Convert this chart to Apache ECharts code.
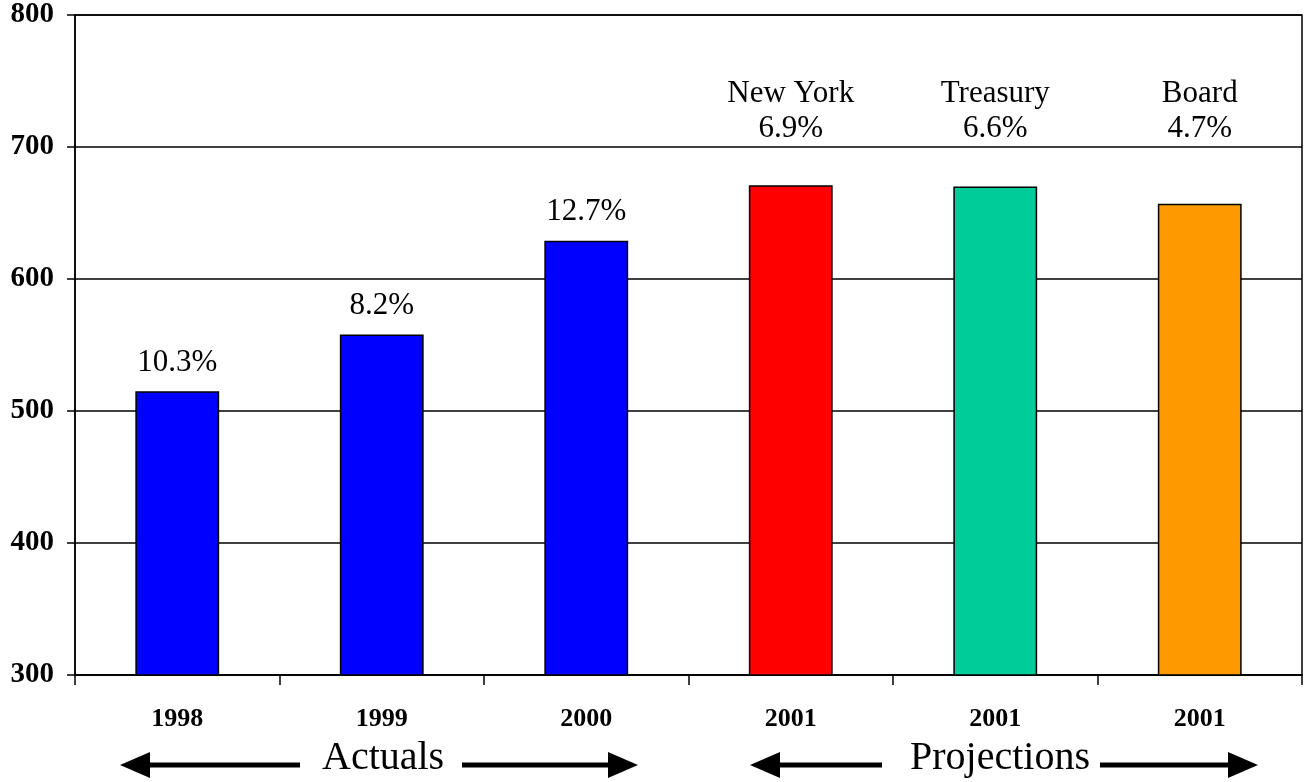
<!DOCTYPE html>
<html>
<head>
<meta charset="utf-8">
<script src="https://cdn.jsdelivr.net/npm/echarts@6/dist/echarts.min.js"></script>
<style>
  html, body { margin: 0; padding: 0; background: #fff; }
  #chart { width: 1308px; height: 782px; }
</style>
</head>
<body>
<div id="chart"></div>
<script>
// data
const categories = ['1998', '1999', '2000', '2001', '2001', '2001'];
const values = [515, 558, 629, 671, 670, 657];
const growth = ['10.3%', '8.2%', '12.7%', '6.9%', '6.6%', '4.7%'];
const sources = ['', '', '', 'New York', 'Treasury', 'Board'];
const barColors = ['#0000FF', '#0000FF', '#0000FF', '#FF0000', '#00CC99', '#FF9900'];
const yTicks = [300, 400, 500, 600, 700, 800];
const projLabelLevel = 697; // projection labels sit in a row above the bars

const serif = '"Liberation Serif", "Times New Roman", serif';

let mchart = echarts.init(document.getElementById('chart'));

// small helper for the arrows under the axis
function arrow(x1, x2, y, dir) {
  const tip = dir < 0 ? x1 : x2;
  const base = tip - dir * 30;
  return [
    {
      type: 'line',
      shape: { x1: dir < 0 ? base : x1, y1: y, x2: dir < 0 ? x2 : base, y2: y },
      style: { stroke: '#000', lineWidth: 5 }
    },
    {
      type: 'polygon',
      shape: { points: [[tip, y], [base, y - 13], [base, y + 13]] },
      style: { fill: '#000' }
    }
  ];
}

let option = {
  animation: false,
  backgroundColor: '#fff',
  grid: {
    left: 75,
    right: 6,
    top: 15,
    bottom: 107,
    show: true,
    borderColor: '#000',
    borderWidth: 1.5
  },
  xAxis: {
    type: 'category',
    data: categories,
    axisLine: { lineStyle: { color: '#000', width: 1.5 } },
    axisTick: { show: true, length: 10, lineStyle: { color: '#000', width: 1.5 } },
    axisLabel: {
      margin: 31,
      color: '#000',
      fontFamily: serif,
      fontWeight: 'bold',
      fontSize: 26
    }
  },
  yAxis: {
    type: 'value',
    min: yTicks[0],
    max: yTicks[yTicks.length - 1],
    interval: 100,
    axisLine: { show: true, lineStyle: { color: '#000', width: 1.5 } },
    axisTick: { show: true, length: 8, lineStyle: { color: '#000', width: 1.5 } },
    splitLine: { lineStyle: { color: '#000', width: 1.5 } },
    axisLabel: {
      margin: 21,
      color: '#000',
      fontFamily: serif,
      fontWeight: 'bold',
      fontSize: 29
    }
  },
  series: [
    {
      type: 'bar',
      barWidth: '41%',
      data: values.map((v, i) => ({
        value: v,
        itemStyle: { color: barColors[i], borderColor: '#000', borderWidth: 1.5 },
        label: {
          show: sources[i] === '',
          position: 'top',
          distance: 13,
          formatter: growth[i],
          color: '#000',
          fontFamily: serif,
          fontSize: 31
        }
      }))
    },
    {
      type: 'scatter',
      symbolSize: 0,
      silent: true,
      itemStyle: { opacity: 1 },
      data: sources.map((s, i) => (s ? [i, projLabelLevel] : null)).filter(d => d),
      label: {
        show: true,
        position: 'top',
        distance: 5,
        color: '#000',
        opacity: 1,
        fontFamily: serif,
        fontSize: 31,
        lineHeight: 35,
        align: 'center',
        formatter: p => sources[p.value[0]] + '\n' + growth[p.value[0]]
      }
    }
  ],
  graphic: [
    ...arrow(120, 300, 765, -1),
    ...arrow(462, 638, 765, 1),
    ...arrow(750, 882, 765, -1),
    ...arrow(1100, 1258, 765, 1),
    {
      type: 'text',
      left: 322,
      top: 738,
      style: { text: 'Actuals', font: '40px ' + serif, fill: '#000' }
    },
    {
      type: 'text',
      left: 910,
      top: 738,
      style: { text: 'Projections', font: '40px ' + serif, fill: '#000' }
    }
  ]
};

mchart.setOption(option);
</script>
</body>
</html>
